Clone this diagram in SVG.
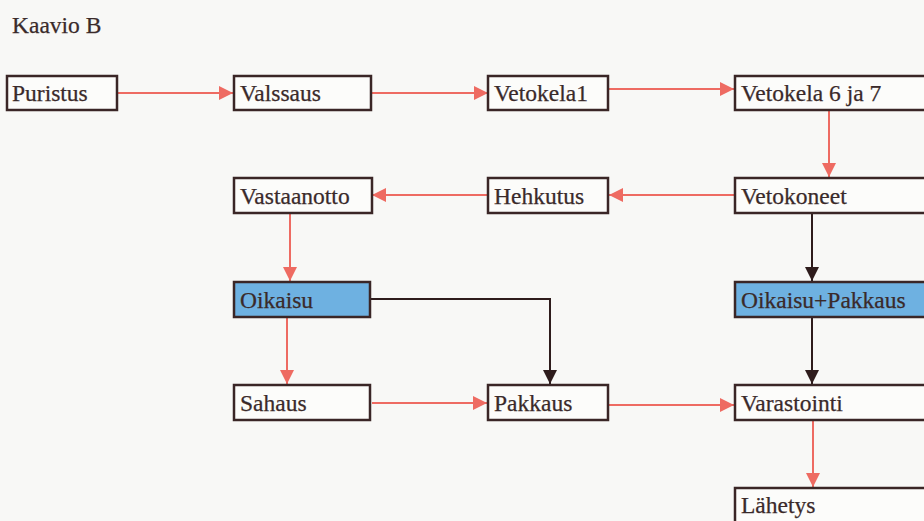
<svg xmlns="http://www.w3.org/2000/svg" width="924" height="521" viewBox="0 0 924 521">
  <style>
    .box { fill: #fcfcfa; stroke: #3a2626; stroke-width: 2.5; }
    .blue { fill: #6eb1e1; }
    .lbl { font-family: "Liberation Serif", "Times New Roman", serif; font-size: 23.5px; fill: #3a2a2a; stroke: #3a2a2a; stroke-width: 0.25; }
    .red { stroke: #ee6b62; stroke-width: 2; fill: none; }
    .blk { stroke: #2e1c1c; stroke-width: 2; fill: none; }
  </style>
  <defs>
    <marker id="ar" markerUnits="userSpaceOnUse" markerWidth="14" markerHeight="14" refX="14" refY="7" orient="auto">
      <path d="M0,0 L14,7 L0,14 Z" fill="#ee6b62"/>
    </marker>
    <marker id="ab" markerUnits="userSpaceOnUse" markerWidth="14" markerHeight="14" refX="14" refY="7" orient="auto">
      <path d="M0,0 L14,7 L0,14 Z" fill="#2e1c1c"/>
    </marker>
  </defs>

  <rect width="924" height="521" fill="#f8f8f6"/>

  <text class="lbl" x="12" y="33">Kaavio B</text>

  <!-- connectors -->
  <g id="connectors">
    <line class="red" x1="118" y1="93" x2="233" y2="93" marker-end="url(#ar)"/>
    <line class="red" x1="372" y1="93" x2="488" y2="93" marker-end="url(#ar)"/>
    <line class="red" x1="609" y1="89" x2="734" y2="89" marker-end="url(#ar)"/>
    <line class="red" x1="829" y1="111" x2="829" y2="177" marker-end="url(#ar)"/>
    <line class="red" x1="734" y1="195" x2="609" y2="195" marker-end="url(#ar)"/>
    <line class="red" x1="487" y1="195" x2="372" y2="195" marker-end="url(#ar)"/>
    <line class="red" x1="290" y1="214" x2="290" y2="281" marker-end="url(#ar)"/>
    <line class="blk" x1="812" y1="214" x2="812" y2="281" marker-end="url(#ab)"/>
    <polyline class="blk" points="371,299 550,299 550,384" marker-end="url(#ab)"/>
    <line class="red" x1="287" y1="318" x2="287" y2="384" marker-end="url(#ar)"/>
    <line class="blk" x1="812" y1="318" x2="812" y2="384" marker-end="url(#ab)"/>
    <line class="red" x1="372" y1="403" x2="487" y2="403" marker-end="url(#ar)"/>
    <line class="red" x1="609" y1="405" x2="734" y2="405" marker-end="url(#ar)"/>
    <line class="red" x1="813" y1="421" x2="813" y2="487" marker-end="url(#ar)"/>
  </g>

  <!-- process steps -->
  <g id="puristus"><rect class="box" x="7" y="76" width="110" height="34"/><text class="lbl" x="12" y="101">Puristus</text></g>
  <g id="valssaus"><rect class="box" x="234" y="76" width="137" height="34"/><text class="lbl" x="240" y="101">Valssaus</text></g>
  <g id="vetokela1"><rect class="box" x="488" y="76" width="120" height="34"/><text class="lbl" x="494" y="101">Vetokela1</text></g>
  <g id="vetokela67"><rect class="box" x="735" y="76" width="200" height="34"/><text class="lbl" x="741" y="101">Vetokela 6 ja 7</text></g>

  <g id="vastaanotto"><rect class="box" x="234" y="178" width="138" height="35"/><text class="lbl" x="240" y="204">Vastaanotto</text></g>
  <g id="hehkutus"><rect class="box" x="488" y="178" width="120" height="35"/><text class="lbl" x="494" y="204">Hehkutus</text></g>
  <g id="vetokoneet"><rect class="box" x="735" y="178" width="200" height="35"/><text class="lbl" x="741" y="204">Vetokoneet</text></g>

  <g id="oikaisu"><rect class="box blue" x="234" y="282" width="136" height="35"/><text class="lbl" x="240" y="308">Oikaisu</text></g>
  <g id="oikaisu-pakkaus"><rect class="box blue" x="735" y="282" width="200" height="35"/><text class="lbl" x="741" y="308">Oikaisu+Pakkaus</text></g>

  <g id="sahaus"><rect class="box" x="234" y="385" width="136" height="35"/><text class="lbl" x="240" y="411">Sahaus</text></g>
  <g id="pakkaus"><rect class="box" x="488" y="385" width="120" height="35"/><text class="lbl" x="494" y="411">Pakkaus</text></g>
  <g id="varastointi"><rect class="box" x="735" y="385" width="200" height="35"/><text class="lbl" x="741" y="411">Varastointi</text></g>

  <g id="lahetys"><rect class="box" x="735" y="488" width="200" height="40"/><text class="lbl" x="741" y="513">Lähetys</text></g>
</svg>
